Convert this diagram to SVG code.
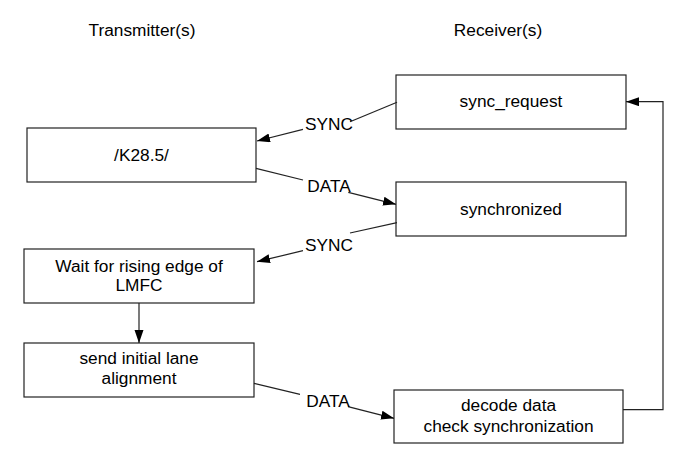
<svg xmlns="http://www.w3.org/2000/svg" width="699" height="473" viewBox="0 0 699 473">
<defs>
<style>
text{font-family:"Liberation Sans",Arial,sans-serif;font-size:17.3px;fill:#000;text-anchor:middle}
.box{fill:#fff;stroke:#222;stroke-width:1.2}
.ln{fill:none;stroke:#222;stroke-width:1.2}
</style>
<marker id="ah" markerUnits="userSpaceOnUse" markerWidth="14" markerHeight="10" refX="13" refY="4.5" orient="auto">
<path d="M0,0 L13,4.5 L0,9 z" fill="#000"/>
</marker>
</defs>
<rect width="699" height="473" fill="#fff"/>
<text x="142" y="36">Transmitter(s)</text>
<text x="498" y="36">Receiver(s)</text>
<g id="n-sync-request"><rect class="box" x="396" y="75" width="230" height="54"/><text x="511" y="107">sync_request</text></g>
<g id="n-k285"><rect class="box" x="27" y="128" width="229" height="54"/><text x="141.5" y="161">/K28.5/</text></g>
<g id="n-synchronized"><rect class="box" x="396" y="182" width="230" height="54"/><text x="511" y="215">synchronized</text></g>
<g id="n-wait"><rect class="box" x="24" y="249" width="230" height="54"/><text x="139" y="272">Wait for rising edge of</text><text x="139" y="291">LMFC</text></g>
<g id="n-send"><rect class="box" x="24" y="343" width="230" height="54"/><text x="139" y="364">send initial lane</text><text x="139" y="383.5">alignment</text></g>
<g id="n-decode"><rect class="box" x="394" y="390" width="229" height="53"/><text x="508.5" y="411">decode data</text><text x="508.5" y="432">check synchronization</text></g>
<g id="connectors">
<path class="ln" d="M397,102.3 L350,121.7"/>
<path class="ln" d="M303,129.3 L257,141" marker-end="url(#ah)"/>
<text x="329" y="129.5">SYNC</text>
<path class="ln" d="M256,168.3 L303,180"/>
<path class="ln" d="M348.3,192.3 L396,204.3" marker-end="url(#ah)"/>
<text x="329" y="192">DATA</text>
<path class="ln" d="M397,222.7 L350,233"/>
<path class="ln" d="M303,250.7 L257,261.7" marker-end="url(#ah)"/>
<text x="329" y="251">SYNC</text>
<path class="ln" d="M139,303 L139,343" marker-end="url(#ah)"/>
<path class="ln" d="M254,383.3 L300,394.3"/>
<path class="ln" d="M348,406.7 L394,418.3" marker-end="url(#ah)"/>
<text x="328" y="407">DATA</text>
<path class="ln" d="M623,409.7 L663,409.7 L663,101.7 L626,101.7" marker-end="url(#ah)"/>
</g>
</svg>
